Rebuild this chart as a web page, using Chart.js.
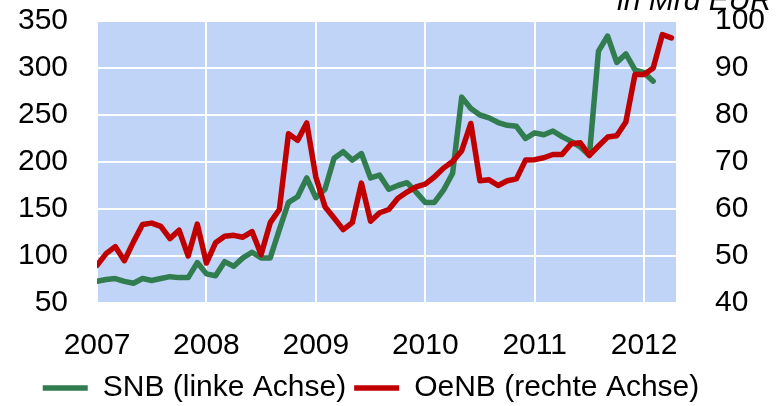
<!DOCTYPE html>
<html>
<head>
<meta charset="utf-8">
<script src="https://cdn.jsdelivr.net/npm/chart.js@4/dist/chart.umd.min.js"></script>
<style>
  html, body { margin: 0; padding: 0; background: #fff; }
</style>
</head>
<body>
<canvas id="myChart" width="782" height="406"></canvas>
<script>
// Jahresbeschriftung (jeweils Januar)
const years = ['2007', '2008', '2009', '2010', '2011', '2012'];

// SNB, monatlich ab Jan 2007 (linke Achse)
const snb = [73, 75, 76, 73, 71, 76, 74, 76, 78, 77, 77, 93,
  81, 79, 94, 89, 98, 104, 98, 98, 128, 157, 163, 183,
  162, 171, 204, 211, 202, 209, 183, 186, 171, 175, 178, 168,
  157, 157, 170, 188, 269, 257, 250, 247, 242, 239, 238, 225,
  231, 229, 233, 227, 222, 216, 207, 318, 334, 306, 315, 298,
  295, 286];

// OeNB, monatlich ab Jan 2007 (rechte Achse)
const oenb = [48, 50.5, 52, 49, 53, 56.7, 57, 56.3, 53.7, 55.5, 50, 56.8,
  48.5, 52.8, 54.2, 54.4, 54, 55.2, 50.3, 57.1, 59.9, 76, 74.6, 78.3,
  66.8, 60.5, 58.1, 55.6, 57.1, 65.5, 57.4, 59.2, 59.9, 62.3, 63.6, 64.7,
  65.3, 66.8, 68.7, 70.1, 72.4, 78.2, 66, 66.2, 65, 66, 66.4, 70.4,
  70.5, 70.9, 71.6, 71.6, 73.9, 74.1, 71.4, 73.4, 75.3, 75.6, 78.5, 88.6,
  88.6, 90, 97.1, 96.4];

const FONT = 'Liberation Sans, Arial, sans-serif';
const toPoints = arr => arr.map((v, i) => ({ x: i, y: v }));

// feste Breite, ohne zusätzlichen Rand oben/unten durch ticks.padding
const fixY = w => scale => {
  scale.width = w;
  scale.paddingTop = 0;
  scale.paddingBottom = 0;
};

// Hintergrund der Zeichenfläche, Legende verschieben, Einheit oben rechts
const plotBg = {
  id: 'plotBg',
  afterLayout(chart) {
    const lg = chart.legend;
    lg.top += 7;
    lg.bottom += 7;
    lg.right -= 40;
  },
  beforeDraw(chart) {
    const { ctx, chartArea: a } = chart;
    ctx.save();
    ctx.fillStyle = '#C0D4F8';
    ctx.fillRect(a.left, a.top, a.right - a.left, a.bottom - a.top);
    ctx.restore();
  },
  afterDraw(chart) {
    const ctx = chart.ctx;
    ctx.save();
    ctx.font = 'italic 30px ' + FONT;
    ctx.fillStyle = '#000';
    ctx.textBaseline = 'alphabetic';
    ctx.fillText('in Mrd EUR', 617, 10);
    ctx.restore();
  }
};

const ctx = document.getElementById('myChart').getContext('2d');
const chart = new Chart(ctx, {
  type: 'line',
  data: {
    datasets: [
      {
        label: 'SNB (linke Achse)',
        data: toPoints(snb),
        yAxisID: 'y',
        borderColor: '#317D50',
        backgroundColor: '#317D50',
        borderWidth: 5.5,
        pointRadius: 0,
        tension: 0,
        borderCapStyle: 'round',
        borderJoinStyle: 'round',
        order: 1
      },
      {
        label: 'OeNB (rechte Achse)',
        data: toPoints(oenb),
        yAxisID: 'y1',
        borderColor: '#C00000',
        backgroundColor: '#C00000',
        borderWidth: 5.5,
        pointRadius: 0,
        tension: 0,
        borderCapStyle: 'round',
        borderJoinStyle: 'round',
        order: 0
      }
    ]
  },
  options: {
    responsive: false,
    animation: false,
    layout: { padding: { top: 21, left: 0, right: 0, bottom: 0 } },
    plugins: {
      tooltip: { enabled: false },
      legend: {
        position: 'bottom',
        labels: {
          usePointStyle: true,
          pointStyle: 'line',
          pointStyleWidth: 45,
          padding: 8,
          color: '#000',
          font: { family: FONT, size: 30 },
          sort: (a, b) => a.datasetIndex - b.datasetIndex
        }
      }
    },
    scales: {
      x: {
        type: 'linear',
        min: 0,
        max: 63.5,
        afterBuildTicks: axis => { axis.ticks = years.map((y, i) => ({ value: i * 12 })); },
        afterFit: scale => { scale.height = 55; },
        ticks: {
          callback: (v, i) => years[i],
          autoSkip: false,
          maxRotation: 0,
          padding: 25,
          color: '#000',
          font: { family: FONT, size: 30 }
        },
        grid: { color: '#fff', lineWidth: 2, drawTicks: false },
        border: { display: false }
      },
      y: {
        position: 'left',
        min: 50,
        max: 350,
        afterFit: fixY(97),
        ticks: { stepSize: 50, padding: 29, color: '#000', font: { family: FONT, size: 30 } },
        grid: { color: '#fff', lineWidth: 2, drawTicks: false },
        border: { display: false }
      },
      y1: {
        position: 'right',
        min: 40,
        max: 100,
        afterFit: fixY(106),
        ticks: { stepSize: 10, padding: 39, color: '#000', font: { family: FONT, size: 30 } },
        grid: { display: false, drawTicks: false },
        border: { display: false }
      }
    }
  },
  plugins: [plotBg]
});
</script>
</body>
</html>
